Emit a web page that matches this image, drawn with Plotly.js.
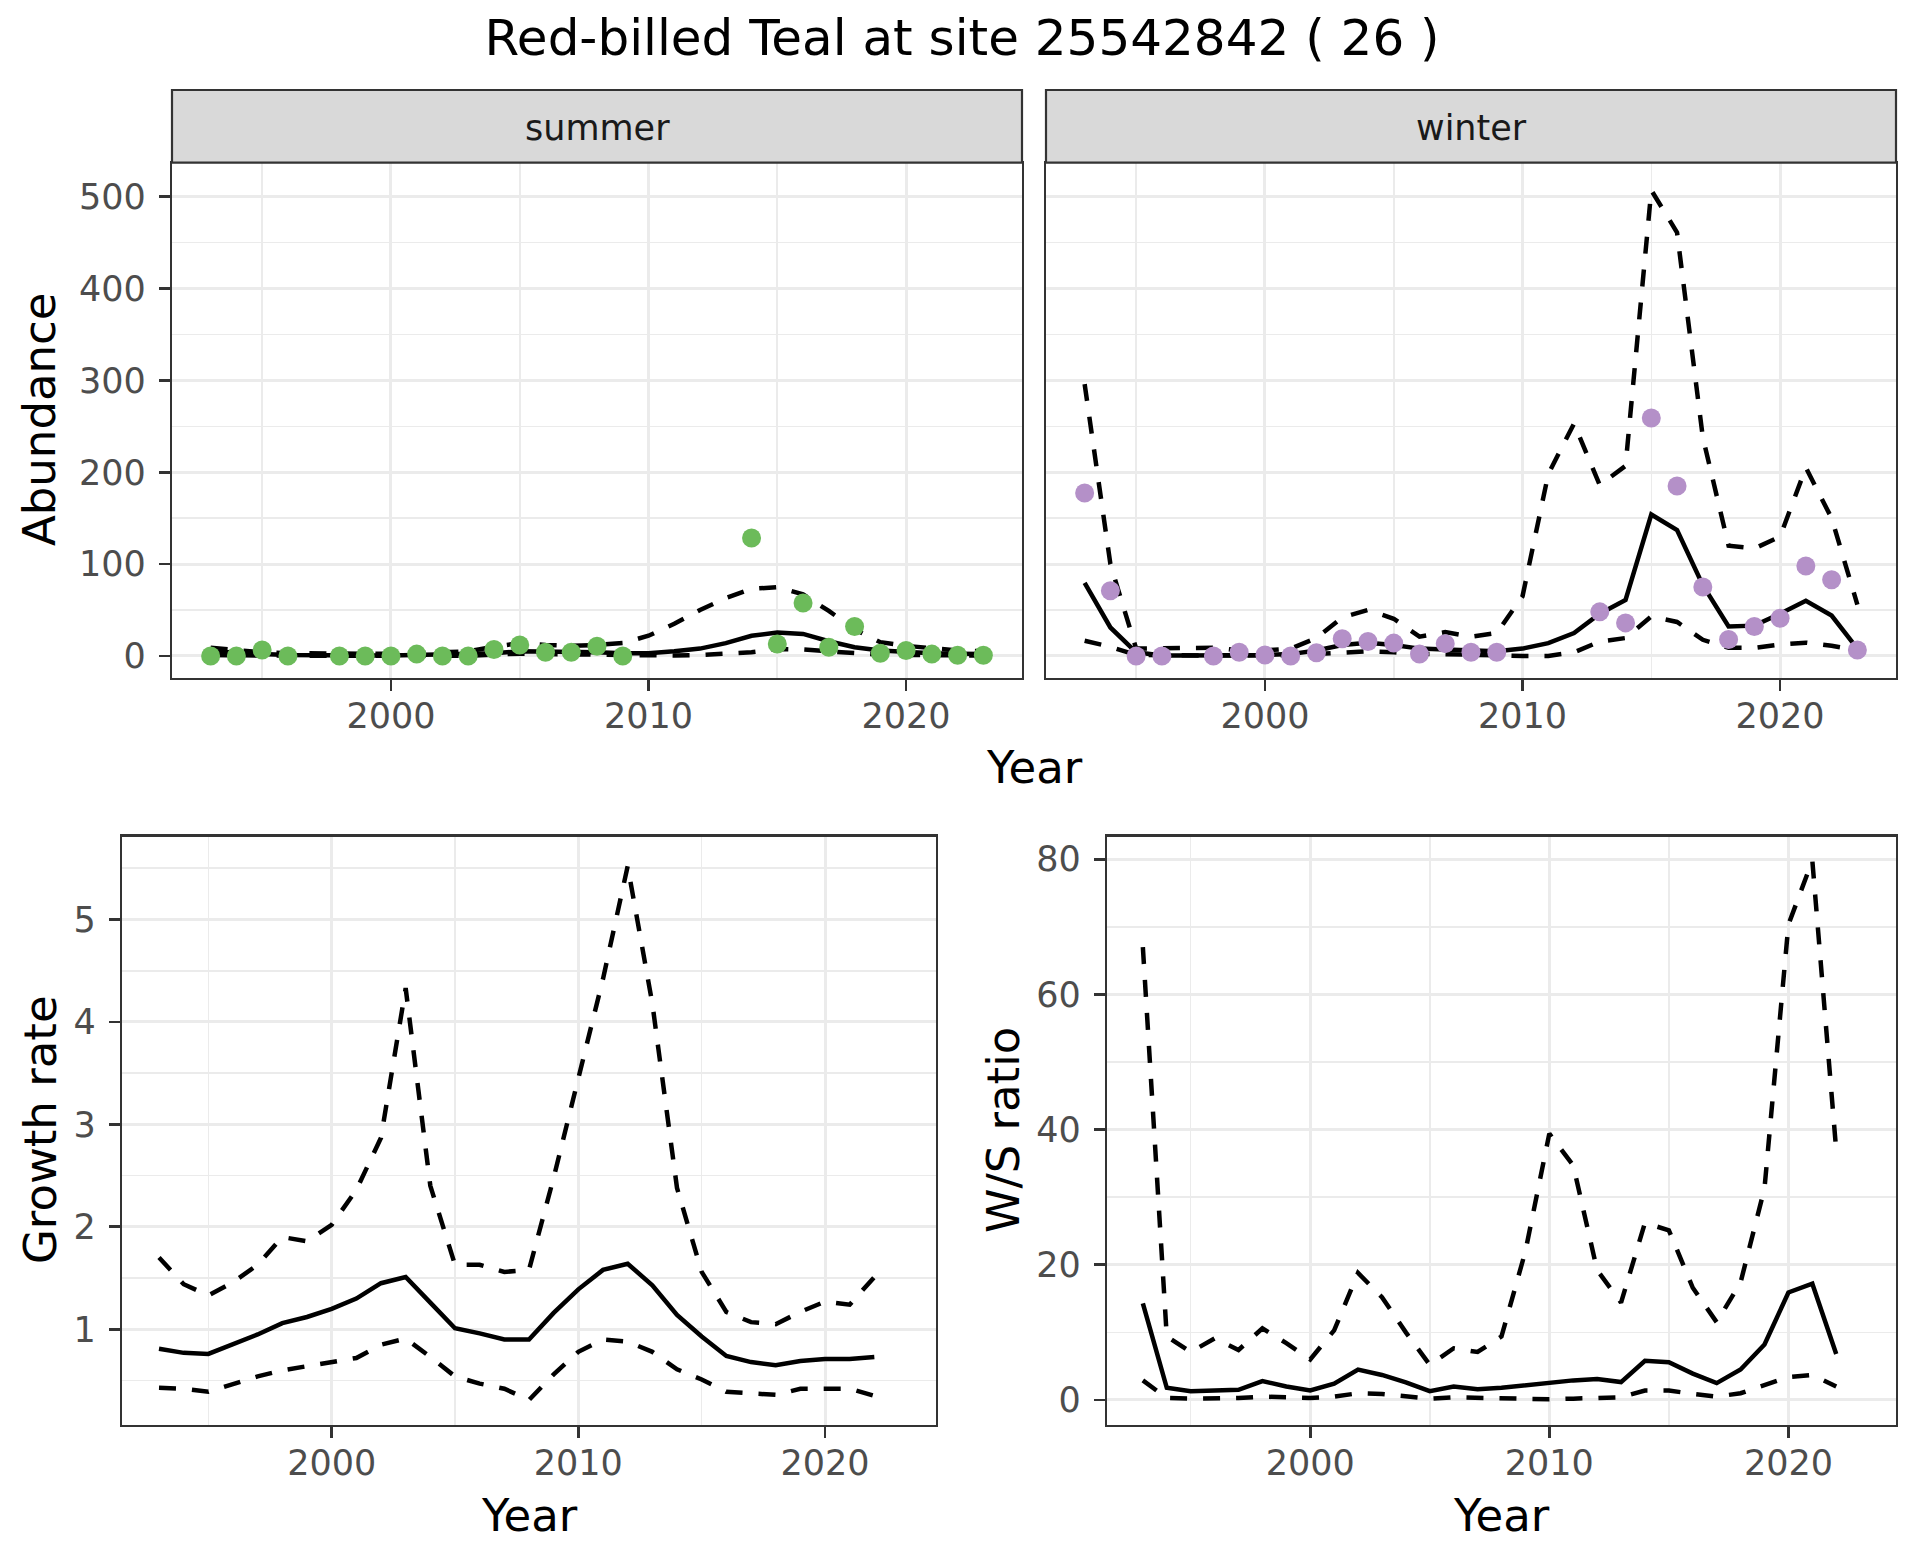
<!DOCTYPE html>
<html><head><meta charset="utf-8">
<script src="https://cdn.plot.ly/plotly-3.0.1.min.js"></script>
<style>html,body{margin:0;padding:0;background:#fff}</style>
</head><body><div id="chart" style="width:1920px;height:1560px"></div>
<script>
// ---------- data ----------
const years = [1993,1994,1995,1996,1997,1998,1999,2000,2001,2002,2003,2004,2005,2006,2007,2008,2009,2010,2011,2012,2013,2014,2015,2016,2017,2018,2019,2020,2021,2022,2023];

const summerCounts = [0,0,6.5,0,null,0,0,0,2,0,0,7,12,4,4,10.5,0,null,null,null,null,128.5,13,57.7,9.4,32,3,6,2,0.7,0.7];
const summerMean   = [5,3,2,1,0.5,0.5,0.5,0.5,1,1,1.5,3,5,5,4.5,4,3,3,5,8,14,22,25.5,24,16,9.5,6,4,3,2.5,2];
const summerUpper  = [9,6,4,3,2.5,2.5,2.5,2.5,3,3.5,5,10,14,12,11,12,14,22,35,50,63,73,75,67,49,29,15,11,8,6,5];
const summerLower  = [1,0.5,0.3,0.2,0.1,0.1,0.1,0.1,0.2,0.2,0.3,1.5,2.5,2,1.5,1,0.5,0.3,0.5,1,2,4,7.5,7,5,3,1.5,1,0.7,0.5,0.5];

const winterCounts = [177.5,71,0,0,null,0,4,1,0,3.5,18.7,15.7,14,2,13.4,4,4,null,null,null,48,36,259,185,75,18,32,41,98,83,6.5];
const winterMean   = [79.6,31,4,0.5,0.5,0.5,1,1,2,6,12,14.5,12,8,7,6,5,8,14,25,46,61,154,137,77,32,33,46,60,44,8];
const winterUpper  = [296,100,8,8,8,9,6,6,8,19.5,42,50,40.5,21,26,21,25,65,198,253,186,207,507,461,238,120,117,130,205,150,56];
const winterLower  = [16.5,10,1,0.5,0.5,0.5,0.5,0.5,1,2,4,5,4,2,2,1,0.5,0,0,4,15.7,19.5,43,37,17.6,8.8,8.8,12.6,14.5,11,6];

const rateYears = [1993,1994,1995,1996,1997,1998,1999,2000,2001,2002,2003,2004,2005,2006,2007,2008,2009,2010,2011,2012,2013,2014,2015,2016,2017,2018,2019,2020,2021,2022];

const growthMean  = [0.81,0.77,0.76,0.85,0.95,1.06,1.12,1.20,1.30,1.45,1.51,1.26,1.01,0.96,0.90,0.90,1.16,1.39,1.58,1.64,1.43,1.14,0.93,0.74,0.68,0.65,0.69,0.71,0.71,0.73];
const growthUpper = [1.70,1.44,1.33,1.46,1.63,1.90,1.86,2.02,2.36,2.87,4.33,2.40,1.63,1.63,1.56,1.58,2.48,3.45,4.42,5.52,4.18,2.38,1.56,1.17,1.07,1.05,1.17,1.27,1.24,1.51];
const growthLower = [0.43,0.42,0.39,0.47,0.54,0.60,0.64,0.68,0.72,0.85,0.91,0.73,0.54,0.47,0.42,0.31,0.56,0.78,0.90,0.88,0.78,0.61,0.51,0.39,0.37,0.36,0.42,0.42,0.42,0.35];

const ratioMean  = [14.3,1.8,1.3,1.4,1.5,2.8,2.0,1.4,2.4,4.5,3.7,2.6,1.3,2.0,1.6,1.8,2.2,2.65,2.9,3.1,2.65,5.8,5.6,3.9,2.5,4.5,8.2,15.9,17.2,6.8];
const ratioUpper = [67,9.4,7.1,9.1,7.4,10.6,8.4,6.0,10.3,18.8,15.2,10,5.2,7.65,7.1,9.4,22,39.4,34.7,19.2,14.4,26.2,25.1,16.6,11.5,17.4,31.3,70.3,79.8,36.9];
const ratioLower = [2.9,0.3,0.2,0.2,0.3,0.5,0.4,0.3,0.5,1.0,0.9,0.6,0.2,0.4,0.3,0.2,0.15,0.1,0.2,0.3,0.4,1.4,1.4,0.9,0.5,1.0,2.2,3.4,3.7,2.0];

const xTickVals = [2000, 2010, 2020];
const xTickText = ['2000', '2010', '2020'];

// ---------- geometry helpers ----------
const W = 1920, H = 1560;
const fx = p => p / W;
const fy = p => 1 - p / H;

const FONT = 'DejaVu Sans, Verdana, sans-serif';
const GRID = '#EBEBEB';
const DARK = '#333333';
const TICKFONT = {family: FONT, size: 35, color: '#4D4D4D'};
const GREEN = '#6CBB5A';
const PURPLE = '#B490C8';
const LW = 4.5;
const DASH = '17px,16px';

function lineTrace(x, y, xa, ya, dashed) {
  return {x: x, y: y, xaxis: xa, yaxis: ya, type: 'scatter', mode: 'lines',
    line: {color: '#000000', width: LW, dash: dashed ? DASH : 'solid'},
    hoverinfo: 'skip', showlegend: false};
}
function pointTrace(x, y, xa, ya, color) {
  return {x: x, y: y, xaxis: xa, yaxis: ya, type: 'scatter', mode: 'markers',
    marker: {color: color, size: 19, line: {width: 0}},
    hoverinfo: 'skip', showlegend: false};
}

const traces = [
  lineTrace(years, summerUpper, 'x', 'y', true),
  lineTrace(years, summerLower, 'x', 'y', true),
  lineTrace(years, summerMean, 'x', 'y', false),
  pointTrace(years, summerCounts, 'x', 'y', GREEN),
  lineTrace(years, winterUpper, 'x2', 'y2', true),
  lineTrace(years, winterLower, 'x2', 'y2', true),
  lineTrace(years, winterMean, 'x2', 'y2', false),
  pointTrace(years, winterCounts, 'x2', 'y2', PURPLE),
  lineTrace(rateYears, growthUpper, 'x3', 'y3', true),
  lineTrace(rateYears, growthLower, 'x3', 'y3', true),
  lineTrace(rateYears, growthMean, 'x3', 'y3', false),
  lineTrace(rateYears, ratioUpper, 'x4', 'y4', true),
  lineTrace(rateYears, ratioLower, 'x4', 'y4', true),
  lineTrace(rateYears, ratioMean, 'x4', 'y4', false)
];

function xAxis(d0, d1, anchor) {
  return {domain: [fx(d0), fx(d1)], anchor: anchor, range: [1991.5, 2024.5],
    tickmode: 'array', tickvals: xTickVals, ticktext: xTickText,
    ticks: 'outside', ticklen: 11, tickwidth: 2.7, tickcolor: DARK,
    tickfont: TICKFONT, ticklabelstandoff: -5,
    showgrid: true, gridcolor: GRID, gridwidth: 3,
    minor: {tickvals: [1995, 2005, 2015], showgrid: true, gridcolor: GRID, gridwidth: 1.6, ticks: ''},
    zeroline: false, showline: true, mirror: true, linecolor: DARK, linewidth: 2.2, fixedrange: true};
}
function yAxis(t0, t1, anchor, range, tickvals, minorvals, labels) {
  return {domain: [fy(t1), fy(t0)], anchor: anchor, range: range,
    tickmode: 'array', tickvals: tickvals, ticktext: tickvals.map(String),
    ticks: labels ? 'outside' : '', ticklen: 11, tickwidth: 2.7, tickcolor: DARK,
    showticklabels: labels, tickfont: TICKFONT, ticklabelstandoff: 6,
    showgrid: true, gridcolor: GRID, gridwidth: 3,
    minor: {tickvals: minorvals, showgrid: true, gridcolor: GRID, gridwidth: 1.6, ticks: ''},
    zeroline: false, showline: true, mirror: true, linecolor: DARK, linewidth: 2.2, fixedrange: true};
}

const abTicks = [0, 100, 200, 300, 400, 500];
const abMinor = [50, 150, 250, 350, 450];
const grTicks = [1, 2, 3, 4, 5];
const grMinor = [0.5, 1.5, 2.5, 3.5, 4.5, 5.5];
const wsTicks = [0, 20, 40, 60, 80];
const wsMinor = [10, 30, 50, 70];

const TOP0 = 162.7, TOP1 = 678, BOT0 = 836.5, BOT1 = 1425;

function strip(x0, x1, label) {
  return {
    shape: {type: 'rect', xref: 'paper', yref: 'paper', x0: fx(x0), x1: fx(x1), y0: fy(TOP0), y1: fy(90),
      fillcolor: '#D9D9D9', line: {color: DARK, width: 2.2}, layer: 'above'},
    ann: {text: label, xref: 'paper', yref: 'paper', x: fx((x0 + x1) / 2), y: fy(127.5),
      xanchor: 'center', yanchor: 'middle', showarrow: false,
      font: {family: FONT, size: 35, color: '#1A1A1A'}}
  };
}
const s1 = strip(172, 1022, 'summer');
const s2 = strip(1046, 1896, 'winter');

function axTitle(text, xpx, ypx, angle) {
  return {text: text, xref: 'paper', yref: 'paper', x: fx(xpx), y: fy(ypx),
    xanchor: 'center', yanchor: 'middle', showarrow: false, textangle: angle,
    font: {family: FONT, size: 45, color: '#000000'}};
}

const layout = {
  width: W, height: H, margin: {l: 0, r: 0, t: 0, b: 0},
  paper_bgcolor: '#FFFFFF', plot_bgcolor: '#FFFFFF', showlegend: false,
  font: {family: FONT},
  title: {text: 'Red-billed Teal at site 25542842 ( 26 )', xref: 'container', yref: 'container',
    x: 962 / W, xanchor: 'center', y: fy(37), yanchor: 'middle',
    font: {family: FONT, size: 50, color: '#000000'}},
  xaxis:  xAxis(172, 1022, 'y'),
  xaxis2: xAxis(1046, 1896, 'y2'),
  xaxis3: xAxis(122, 936, 'y3'),
  xaxis4: xAxis(1107, 1896, 'y4'),
  yaxis:  yAxis(TOP0, TOP1, 'x', [-24, 537], abTicks, abMinor, true),
  yaxis2: yAxis(TOP0, TOP1, 'x2', [-24, 537], abTicks, abMinor, false),
  yaxis3: yAxis(BOT0, BOT1, 'x3', [0.066, 5.81], grTicks, grMinor, true),
  yaxis4: yAxis(BOT0, BOT1, 'x4', [-3.7, 83.35], wsTicks, wsMinor, true),
  shapes: [s1.shape, s2.shape],
  annotations: [
    s1.ann, s2.ann,
    axTitle('Abundance', 40, 420, -90),
    axTitle('Year', 1034, 767, 0),
    axTitle('Growth rate', 40, 1130, -90),
    axTitle('Year', 529, 1515, 0),
    axTitle('W/S ratio', 1003, 1130, -90),
    axTitle('Year', 1501, 1515, 0)
  ]
};

Plotly.newPlot('chart', traces, layout, {staticPlot: true, displayModeBar: false});
</script>
</body></html>
